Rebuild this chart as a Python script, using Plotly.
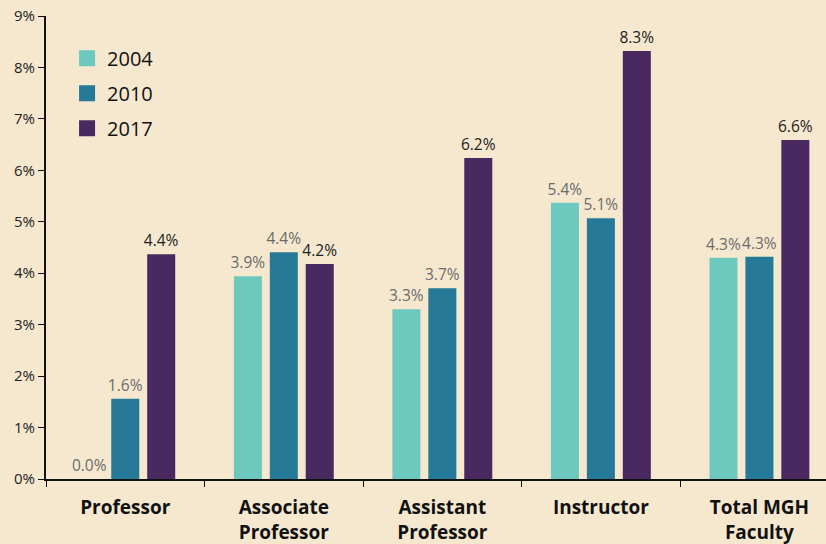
import plotly.graph_objects as go

categories = ["Professor", "Associate<br>Professor", "Assistant<br>Professor", "Instructor", "Total MGH<br>Faculty"]
years = ["2004", "2010", "2017"]
v2004 = [0.0, 3.94, 3.30, 5.37, 4.30]
v2010 = [1.56, 4.41, 3.71, 5.07, 4.32]
v2017 = [4.37, 4.18, 6.24, 8.32, 6.59]
y_ticks = [0, 1, 2, 3, 4, 5, 6, 7, 8, 9]

colors = ["#6DC9BE", "#267A98", "#4A2960"]
label_colors = ["#6b6b6b", "#6b6b6b", "#222222"]
bg = "#F6E8CF"
font_family = "'Open Sans', Lato, sans-serif"

fig = go.Figure()
for name, vals, c, lc in zip(years, [v2004, v2010, v2017], colors, label_colors):
    fig.add_trace(go.Bar(
        x=categories, y=vals, name=name, legendgroup=name, showlegend=False,
        marker=dict(color=c, line=dict(width=0)),
        text=[f"{v:.1f}%" for v in vals],
        textposition="outside", constraintext="none",
        textfont=dict(size=15.5, color=lc, family=font_family),
        cliponaxis=False, hoverinfo="skip",
    ))
for name, c in zip(years, colors):
    fig.add_trace(go.Scatter(
        x=[None], y=[None], name=name, legendgroup=name, mode="markers",
        marker=dict(symbol="square", size=16, color=c, line=dict(width=0)),
        showlegend=True,
    ))

fig.update_layout(
    width=826, height=544,
    paper_bgcolor=bg, plot_bgcolor=bg,
    margin=dict(l=46, r=0, t=16, b=65),
    barmode="group", bargap=0.32, bargroupgap=0.22,
    font=dict(family=font_family, color="#111111"),
    showlegend=True,
    legend=dict(x=0.027, y=0.951, xanchor="left", yanchor="top",
                bgcolor="rgba(0,0,0,0)", font=dict(size=20, color="#111111"),
                tracegroupgap=6, itemwidth=30),
    xaxis=dict(range=[-0.5, 4.42], showline=True, linecolor="#111111", linewidth=2,
               ticks="outside", tickson="boundaries", ticklen=6, tickcolor="#111111",
               tickfont=dict(size=19, color="#111111", family=font_family, weight="bold"),
               ticklabelstandoff=10, automargin=False,
               showgrid=False, zeroline=False, fixedrange=True),
    yaxis=dict(range=[0, 9], tickvals=y_ticks, ticktext=[f"{t}%" for t in y_ticks],
               showline=True, linecolor="#111111", linewidth=2,
               ticks="outside", ticklen=6, tickcolor="#111111",
               tickfont=dict(size=15, color="#222222"), automargin=False,
               showgrid=False, zeroline=False, fixedrange=True),
)

fig.write_html(
    "out.html",
    config={"displayModeBar": False},
    post_script="document.body.style.margin='0';document.body.style.background='#F6E8CF';",
)
